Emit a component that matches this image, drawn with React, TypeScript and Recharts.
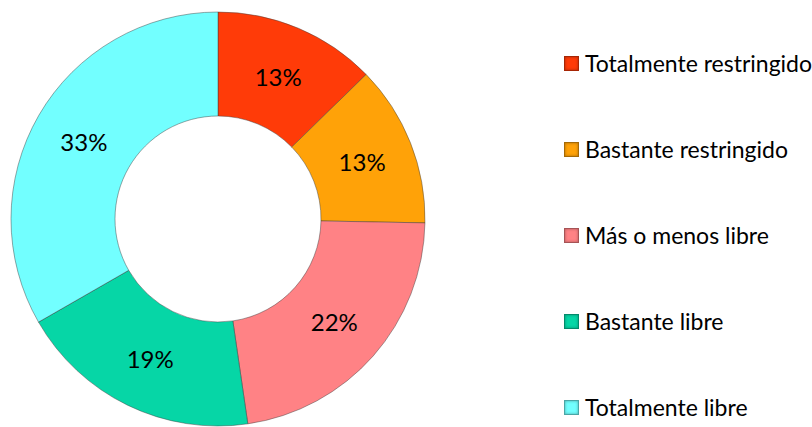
import { PieChart, Pie, Cell, Legend } from 'recharts';

const categories = [
  'Totalmente restringido',
  'Bastante restringido',
  'Más o menos libre',
  'Bastante libre',
  'Totalmente libre',
];
const values = [12.7, 12.6, 22.4, 19.0, 33.3];
const colors = ['#FF3B08', '#FFA208', '#FF8285', '#06D6A6', '#72FFFF'];

const data = categories.map((name, i) => ({ name, value: values[i] }));

const FONT = 'Lato, "Open Sans", sans-serif';

// etiqueta de porcentaje en el centro del anillo
const renderLabel = (props: any) => {
  const { cx, cy, midAngle, innerRadius, outerRadius, percent } = props;
  const r = (innerRadius + outerRadius) / 2;
  const rad = Math.PI / 180;
  const x = cx + r * Math.cos(-midAngle * rad);
  const y = cy + r * Math.sin(-midAngle * rad);
  return (
    <text
      x={x}
      y={y}
      fill="#000"
      textAnchor="middle"
      dominantBaseline="central"
      fontSize={24}
      fontFamily={FONT}
    >
      {`${Math.round(percent * 100)}%`}
    </text>
  );
};

// leyenda en el orden original de las categorías
const renderLegend = () => (
  <div style={{ fontFamily: FONT, fontSize: 23, color: '#000' }}>
    {categories.map((name, i) => (
      <div
        key={name}
        style={{
          display: 'flex',
          alignItems: 'center',
          height: 86,
        }}
      >
        <span
          style={{
            width: 13,
            height: 13,
            background: colors[i],
            border: '1px solid rgba(0,0,0,0.35)',
            boxShadow: 'inset 0 0 3px rgba(0,0,0,0.35)',
            marginRight: 6,
            flexShrink: 0,
          }}
        />
        <span style={{ whiteSpace: 'nowrap' }}>{name}</span>
      </div>
    ))}
  </div>
);

export default function App() {
  return (
    <div style={{ position: 'absolute', left: 0, top: 0, background: '#fff' }}>
      <PieChart width={812} height={427} margin={{ top: 0, right: 0, bottom: 0, left: 0 }}>
        <Pie
          data={data}
          dataKey="value"
          nameKey="name"
          cx={218}
          cy={219}
          innerRadius={103}
          outerRadius={207}
          startAngle={90}
          endAngle={-270}
          stroke="rgba(60,60,60,0.45)"
          strokeWidth={1}
          label={renderLabel}
          labelLine={false}
          isAnimationActive={false}
        >
          {data.map((d, i) => (
            <Cell key={d.name} fill={colors[i]} />
          ))}
        </Pie>
        <Legend
          layout="vertical"
          align="right"
          verticalAlign="top"
          content={renderLegend}
          wrapperStyle={{ left: 564, top: 20, width: 248 }}
        />
      </PieChart>
    </div>
  );
}
